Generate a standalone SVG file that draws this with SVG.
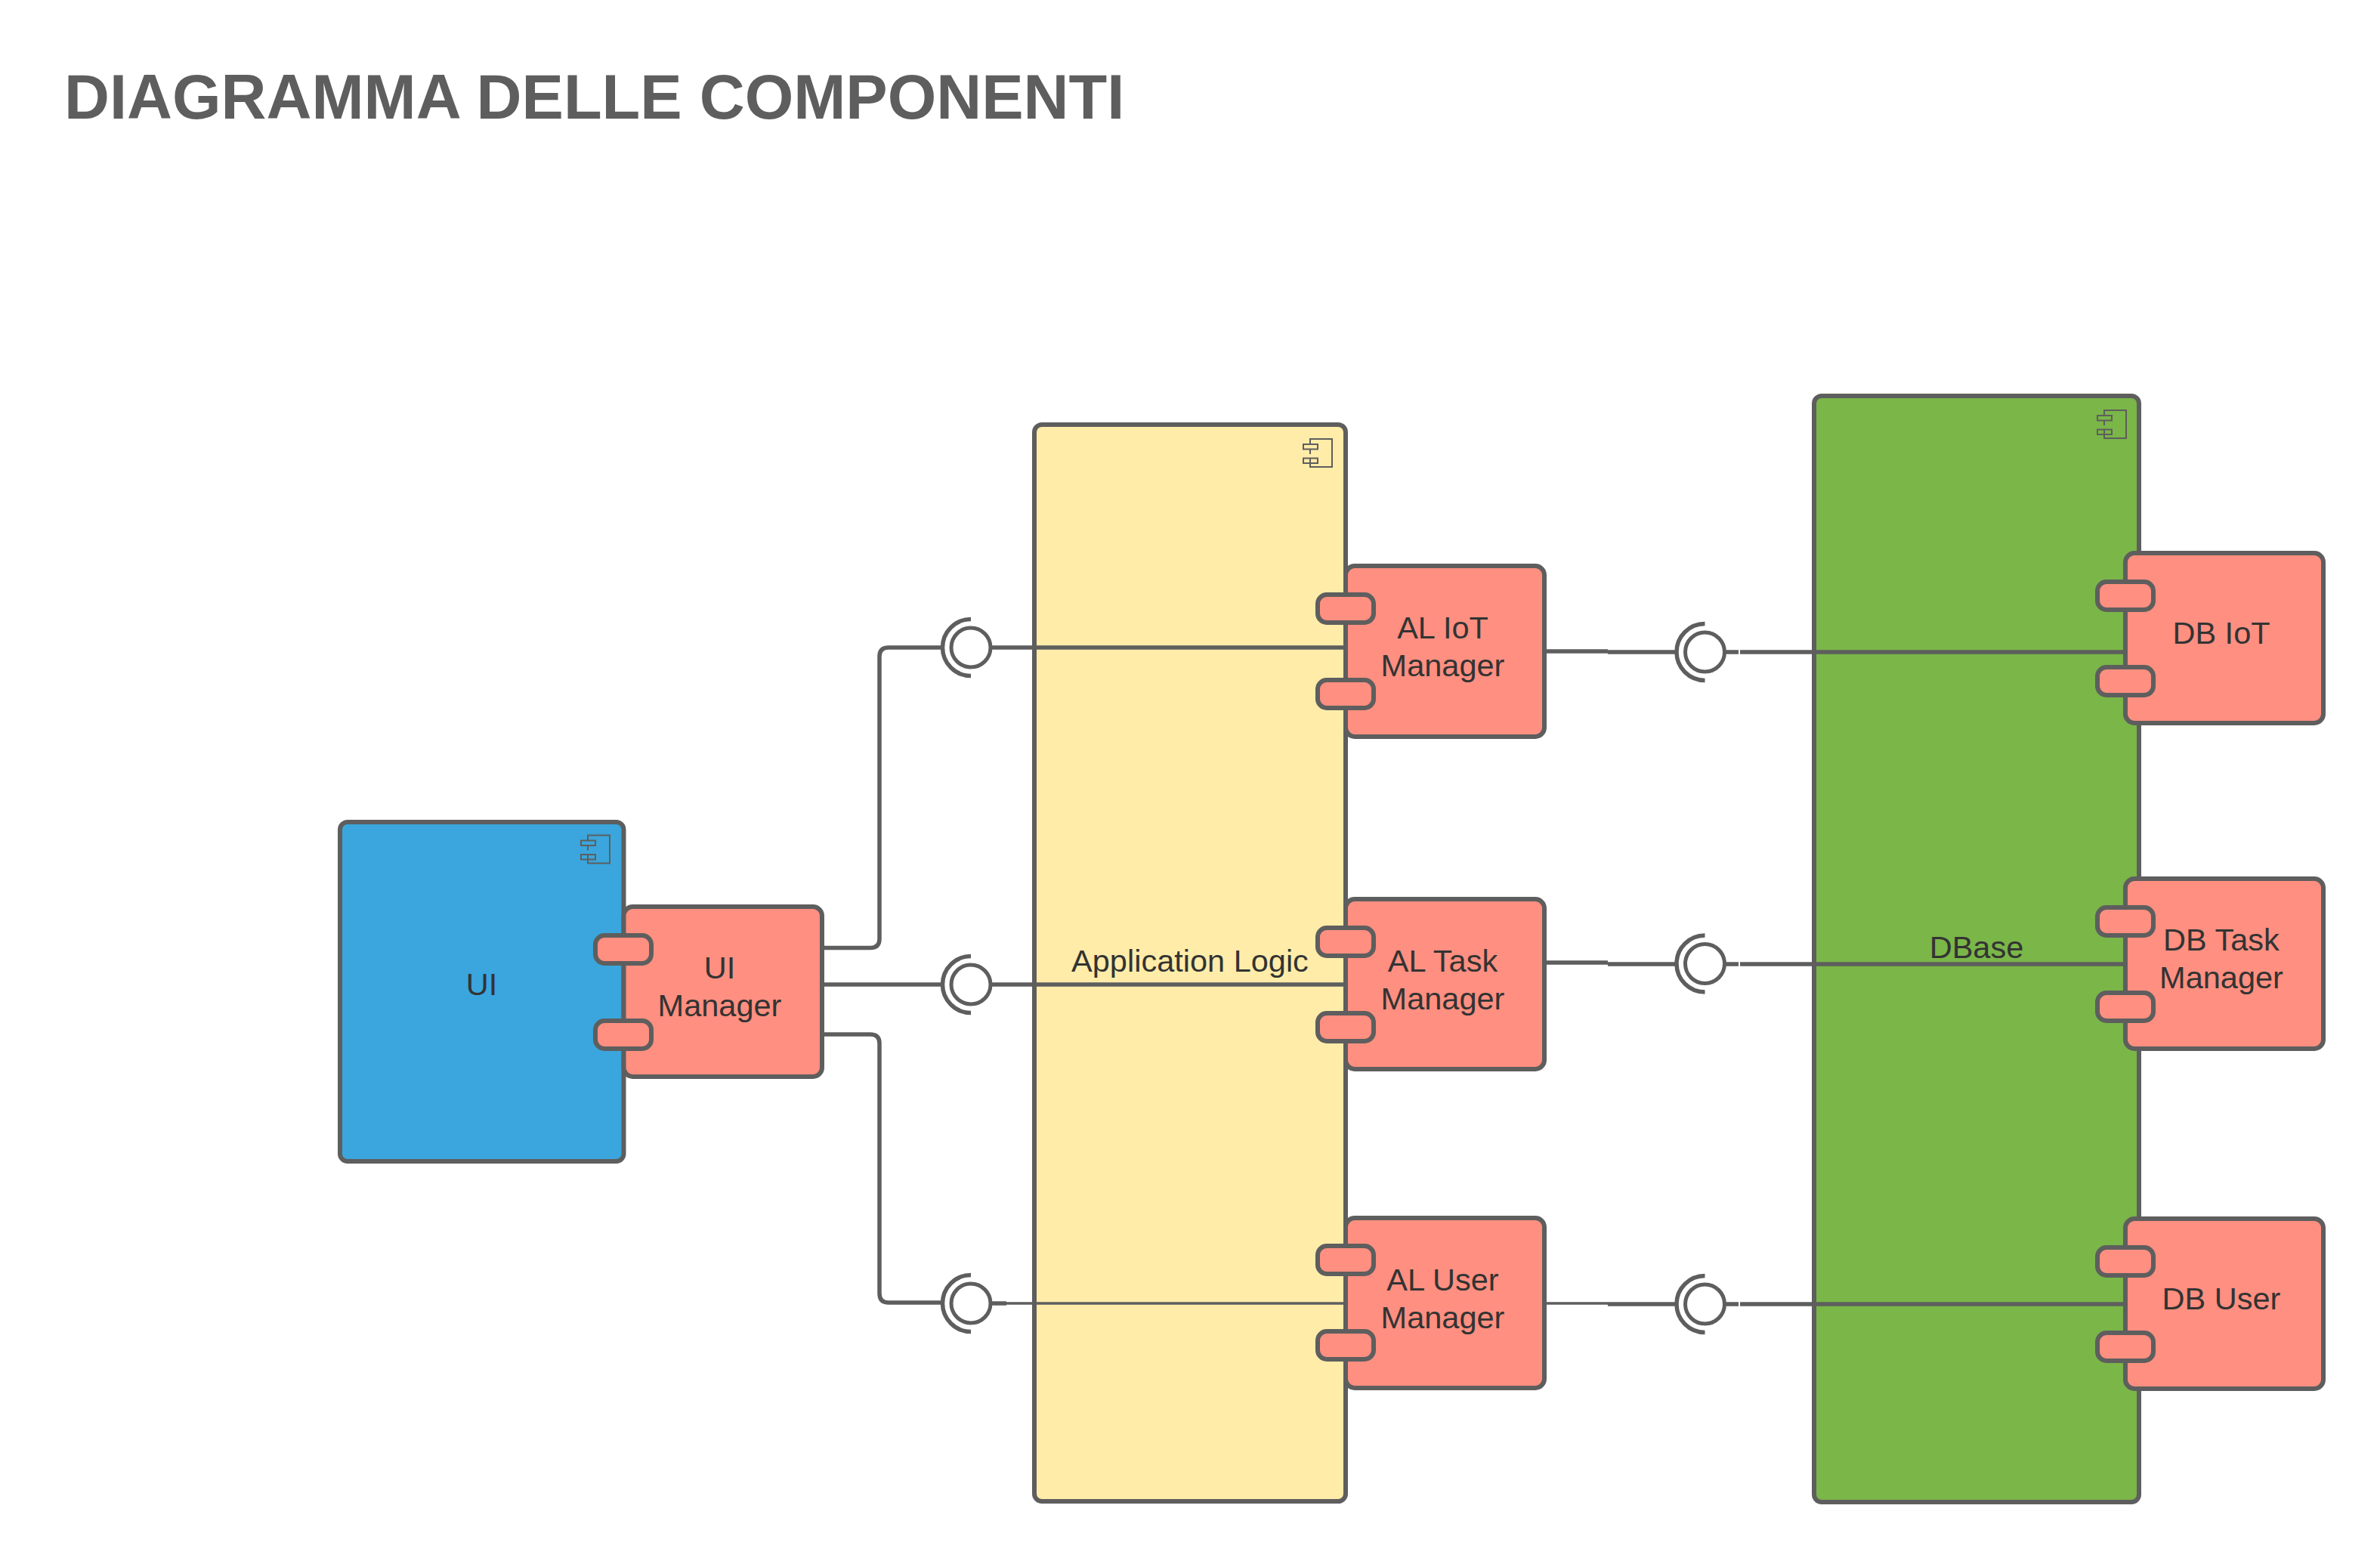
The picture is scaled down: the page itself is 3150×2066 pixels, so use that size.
<svg xmlns="http://www.w3.org/2000/svg" width="3150" height="2066" viewBox="0 0 3150 2066">
<style>
.box{stroke:#5e5e5e;stroke-width:6}
.ui{fill:#3aa6dd}.al{fill:#ffeca9}.db{fill:#7ab648}.part{fill:#ff8f80}
.ic{fill:none;stroke:#5e5e5e;stroke-width:2}
.c{fill:none;stroke:#5e5e5e;stroke-width:5.500}
.thin{stroke-width:3.500}
.ci{fill:#fff;stroke:#5e5e5e;stroke-width:5}
.arc{fill:none;stroke:#5e5e5e;stroke-width:5.500}
text{font-family:"Liberation Sans",Arial,sans-serif;font-size:41.500px;fill:#333;text-anchor:middle}
.title{font-size:83px;font-weight:bold;fill:#5e5e5e;text-anchor:start}
</style>
<defs>
<g id="icon"><path class="ic" d="M9 7V0H38V37H9V26M9 13V20"/><rect class="ic" x="0" y="7" width="19" height="6.500"/><rect class="ic" x="0" y="25.500" width="19" height="6.500"/></g>
<g id="lollipop"><path class="arc" d="M0-37.500A37.500 37.500 0 0 0 0 37.500"/><circle class="ci" r="26"/></g>
<g id="ports"><rect class="box part" x="-37" y="38" width="74" height="37" rx="12"/><rect class="box part" x="-37" y="151" width="74" height="37" rx="12"/></g>
</defs>
<rect width="3150" height="2066" fill="#fff"/>
<text class="title" x="85" y="157">DIAGRAMMA DELLE COMPONENTI</text>
<g id="node-ui"><rect class="box ui" x="450" y="1088" width="375.500" height="449" rx="10"/><use href="#icon" x="769" y="1105.500"/><text x="637.500" y="1317">UI</text></g>
<g id="node-application-logic"><rect class="box al" x="1369" y="562" width="412" height="1425" rx="10"/><use href="#icon" x="1725" y="581"/><text x="1575" y="1286">Application Logic</text></g>
<g id="node-dbase"><rect class="box db" x="2401" y="524" width="430" height="1464" rx="10"/><use href="#icon" x="2776" y="543"/><text x="2616" y="1268">DBase</text></g>
<g id="connectors">
<path class="c" d="M1088 1254.500H1152Q1164 1254.500 1164 1242.500V869Q1164 857 1176 857H1250"/>
<path class="c" d="M1088 1303H1250"/>
<path class="c" d="M1088 1369H1152Q1164 1369 1164 1381V1712Q1164 1724 1176 1724H1250"/>
<path class="c" d="M1310 857H1781"/>
<path class="c" d="M1310 1303H1781"/>
<path class="c" d="M1310 1725H1332"/><path class="c thin" d="M1332 1725H1781"/>
<path class="c" d="M2044 862H2128M2128 863H2220"/>
<path class="c" d="M2044 1274H2128M2128 1276H2220"/>
<path class="c thin" d="M2044 1725H2128"/><path class="c" d="M2128 1726H2220"/>
<path class="c" d="M2280 863H2301M2303 863H2814"/>
<path class="c" d="M2280 1276H2301M2303 1276H2814"/>
<path class="c" d="M2280 1726H2301M2303 1726H2814"/>
</g>
<g id="iface-1"><use href="#lollipop" x="1285" y="857"/></g>
<g id="iface-2"><use href="#lollipop" x="1285" y="1303"/></g>
<g id="iface-3"><use href="#lollipop" x="1285" y="1725"/></g>
<g id="iface-4"><use href="#lollipop" x="2256.500" y="863"/></g>
<g id="iface-5"><use href="#lollipop" x="2256.500" y="1275.500"/></g>
<g id="iface-6"><use href="#lollipop" x="2256.500" y="1726"/></g>
<g id="node-ui-manager"><rect class="box part" x="825.500" y="1200" width="262.500" height="225" rx="12"/><use href="#ports" x="825" y="1200"/><text x="952.500" y="1295">UI</text><text x="952.500" y="1345">Manager</text></g>
<g id="node-al-iot"><rect class="box part" x="1781" y="749" width="263" height="226" rx="12"/><use href="#ports" x="1781" y="749"/><text x="1909.500" y="845">AL IoT</text><text x="1909.500" y="895">Manager</text></g>
<g id="node-al-task"><rect class="box part" x="1781" y="1190" width="263" height="225" rx="12"/><use href="#ports" x="1781" y="1190"/><text x="1909.500" y="1286">AL Task</text><text x="1909.500" y="1336">Manager</text></g>
<g id="node-al-user"><rect class="box part" x="1781" y="1612" width="263" height="225" rx="12"/><use href="#ports" x="1781" y="1611"/><text x="1909.500" y="1708">AL User</text><text x="1909.500" y="1758">Manager</text></g>
<g id="node-db-iot"><rect class="box part" x="2813" y="732" width="262" height="225" rx="12"/><use href="#ports" x="2813" y="732"/><text x="2940" y="852">DB IoT</text></g>
<g id="node-db-task"><rect class="box part" x="2813" y="1163" width="262" height="225" rx="12"/><use href="#ports" x="2813" y="1163"/><text x="2940" y="1258">DB Task</text><text x="2940" y="1308">Manager</text></g>
<g id="node-db-user"><rect class="box part" x="2813" y="1613" width="262" height="225" rx="12"/><use href="#ports" x="2813" y="1613"/><text x="2940" y="1733">DB User</text></g>
</svg>
